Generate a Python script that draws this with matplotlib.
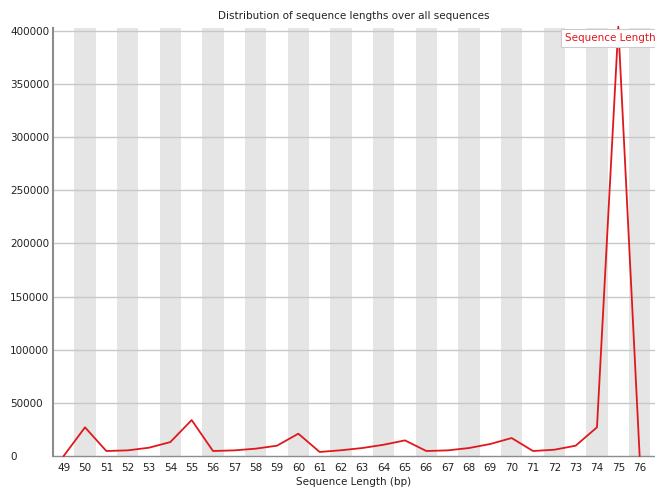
import matplotlib
matplotlib.use("Agg")
import matplotlib.pyplot as plt

# sequence lengths (bp) and read counts
lengths = [49, 50, 51, 52, 53, 54, 55, 56, 57, 58, 59, 60, 61, 62,
           63, 64, 65, 66, 67, 68, 69, 70, 71, 72, 73, 74, 75, 76]
counts = [0, 27000, 4700, 5300, 7800, 13100, 33800, 4700, 5300, 6900, 9700, 21000, 3800, 5400,
          7500, 10600, 14700, 4700, 5300, 7500, 11300, 16900, 4700, 5900, 9700, 27000, 404000, 0]
yticks = [0, 50000, 100000, 150000, 200000, 250000, 300000, 350000, 400000]

RED = "#e0181c"
BAND = "#e5e5e5"
GRID = "#c8c8c8"
AXIS = "#8c8c8c"
FS = 7.5

W, H = 655, 488
fig = plt.figure(figsize=(W / 100, H / 100), dpi=100)
ax = fig.add_axes([53 / W, (H - 456) / H, (W - 53) / W, (456 - 28) / H])

# alternating grey bands behind every other length
for i, x in enumerate(lengths):
    if i % 2 == 1:
        ax.axvspan(x - 0.5, x + 0.5, color=BAND, lw=0, zorder=0)

for v in yticks[1:]:
    ax.axhline(v, color=GRID, lw=1.0, zorder=1)

ax.plot(lengths, counts, color=RED, lw=1.3, zorder=3, clip_on=False)

ax.set_xlim(48.5, 76.72)
ax.set_ylim(0, 402800)
ax.set_xticks(lengths)
ax.set_xticklabels([str(x) for x in lengths], fontsize=FS, color="#222222")
ax.set_yticks(yticks)
ax.set_yticklabels([str(v) for v in yticks], fontsize=FS, color="#222222")
for lab in ax.get_yticklabels():
    lab.set_horizontalalignment("left")
ax.tick_params(axis="y", length=0, pad=31)
ax.tick_params(axis="x", length=0, pad=5)

for s in ("top", "right"):
    ax.spines[s].set_visible(False)
ax.spines["left"].set_color(AXIS)
ax.spines["left"].set_linewidth(1.5)
ax.spines["bottom"].set_color(AXIS)
ax.spines["bottom"].set_linewidth(1.0)

ax.set_xlabel("Sequence Length (bp)", fontsize=FS, color="#222222", labelpad=3)
fig.text(354 / W, 1 - 16 / H, "Distribution of sequence lengths over all sequences",
         fontsize=FS, color="#222222", ha="center", va="center")

# legend box in the top right corner
fig.text(565 / W, 1 - 38 / H, "Sequence Length", fontsize=FS, color=RED,
         ha="left", va="center", zorder=5,
         bbox=dict(boxstyle="square,pad=0.35", facecolor="white", edgecolor="#cccccc", lw=0.8))

fig.savefig("out.png", dpi=100, facecolor="white")
